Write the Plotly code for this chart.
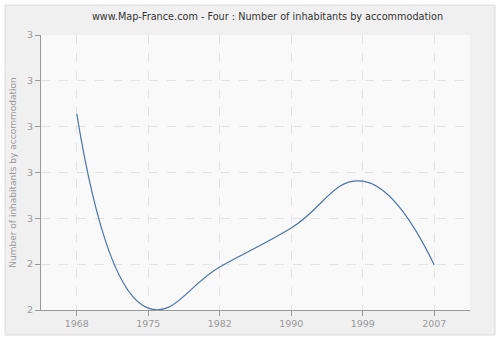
import plotly.graph_objects as go

years = ["1968", "1975", "1982", "1990", "1999", "2007"]
values = [2.728, 2.304, 2.394, 2.479, 2.581, 2.398]
y_tick_values = [2.3, 2.4, 2.5, 2.6, 2.7, 2.8, 2.9]
y_tick_labels = ["2", "2", "3", "3", "3", "3", "3"]

fig = go.Figure()
fig.add_trace(go.Scatter(
    x=years, y=values, mode="lines",
    line=dict(color="#4a76a8", width=1.2, shape="spline", smoothing=1.3),
    cliponaxis=False, hoverinfo="x+y",
))

L, R, T, B = 41, 30, 35, 30
pw, ph = 500 - L - R, 340 - T - B
fig.add_shape(type="rect", xref="paper", yref="paper",
              x0=(5 - L) / pw, x1=(495 - L) / pw,
              y0=(310 - 335) / ph, y1=(310 - 5) / ph,
              line=dict(color="#dcdcdc", width=1), fillcolor="#f0f0f0", layer="below")
fig.add_shape(type="rect", xref="paper", yref="paper",
              x0=0, x1=1, y0=0, y1=1,
              line=dict(width=0), fillcolor="#f9f9f9", layer="below")

fig.update_layout(
    width=500, height=340,
    margin=dict(l=L, r=R, t=T, b=B),
    paper_bgcolor="white", plot_bgcolor="#f9f9f9",
    showlegend=False,
    title=dict(text="www.Map-France.com - Four : Number of inhabitants by accommodation",
               xref="paper", x=(267.5 - L) / pw, xanchor="center",
               y=1 - 17 / 340, yanchor="middle",
               font=dict(family="DejaVu Sans", size=9.7, color="#333333")),
    font=dict(family="DejaVu Sans", size=9.5, color="#999999"),
)
fig.update_xaxes(
    type="category", range=[-0.5, 5.5],
    showline=True, linecolor="#999999", linewidth=1,
    ticks="outside", ticklen=5, tickcolor="#999999",
    showgrid=True, gridcolor="#e2e2e2", griddash="dash", gridwidth=1,
    tickfont=dict(size=9.5, color="#999999"), zeroline=False,
)
fig.update_yaxes(
    range=[2.3, 2.9], tickvals=y_tick_values, ticktext=y_tick_labels,
    showline=True, linecolor="#999999", linewidth=1,
    ticks="outside", ticklen=5, tickcolor="#999999",
    showgrid=True, gridcolor="#e2e2e2", griddash="dash", gridwidth=1,
    tickfont=dict(size=9.5, color="#999999"), zeroline=False,
    title=dict(text="Number of inhabitants by accommodation", standoff=8,
               font=dict(size=9, color="#999999")),
)
fig.write_html("out.html")
